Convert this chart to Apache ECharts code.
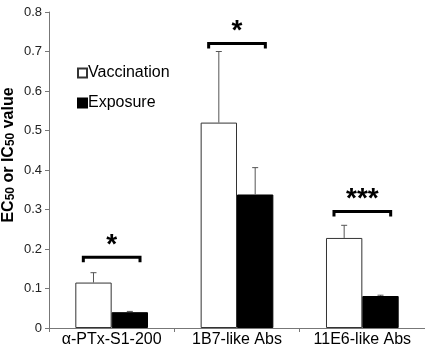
<!DOCTYPE html>
<html><head><meta charset="utf-8">
<script src="https://cdn.jsdelivr.net/npm/echarts@6/dist/echarts.min.js"></script>
<style>html,body{margin:0;padding:0;background:#fff}#c{width:425px;height:350px}</style>
</head><body><div id="c"></div>
<script>
var categories = ['\u03b1-PTx-S1-200', '1B7-like Abs', '11E6-like Abs'];
var vaccination = [0.115, 0.52, 0.228];
var vaccinationErr = [0.025, 0.18, 0.032];
var exposure = [0.04, 0.338, 0.081];
var exposureErr = [0.002, 0.068, 0.002];
var sigHeight = [0.179, 0.72, 0.295];
var sigLabel = ['*', '*', '***'];
var yTicks = [0, 0.1, 0.2, 0.3, 0.4, 0.5, 0.6, 0.7, 0.8];

var chart = echarts.init(document.getElementById('c'));
var FONT = 'Liberation Sans, Arial, sans-serif';

function errData(vals, errs) {
  return vals.map(function (v, i) { return [i, v, v + errs[i]]; });
}
function errRender(offsetSign) {
  return function (params, api) {
    var i = api.value(0);
    var base = api.coord([i, api.value(1)]);
    var top = api.coord([i, api.value(2)]);
    var bw = api.size([1, 0])[0] * 0.29;
    var x = base[0] + offsetSign * bw / 2;
    return { type: 'group', children: [
      { type: 'line', shape: { x1: x, y1: base[1], x2: x, y2: top[1] }, style: { stroke: '#555', lineWidth: 1 } },
      { type: 'line', shape: { x1: x - 3, y1: top[1], x2: x + 3, y2: top[1] }, style: { stroke: '#555', lineWidth: 1 } }
    ]};
  };
}

chart.setOption({
  animation: false,
  grid: { left: 49, right: 0, top: 12, bottom: 22, containLabel: false, outerBoundsMode: 'none' },
  legend: {
    orient: 'vertical', left: 72, top: 60, itemGap: 14, itemWidth: 9, itemHeight: 9,
    icon: 'rect', textStyle: { fontFamily: FONT, fontSize: 16, color: '#000', padding: [0, 0, 0, -4] },
    data: ['Vaccination', 'Exposure']
  },
  xAxis: {
    type: 'category', data: categories,
    axisLine: { lineStyle: { color: '#777', width: 1 } },
    axisTick: { show: true, length: 4, alignWithLabel: false, lineStyle: { color: '#777' } },
    axisLabel: { fontFamily: FONT, fontSize: 16, color: '#000', margin: 4, interval: 0, hideOverlap: false }
  },
  yAxis: {
    type: 'value', min: 0, max: 0.8, interval: 0.1,
    name: '{a|EC}{s|50}{a| or IC}{s|50}{a| value}',
    nameLocation: 'middle', nameRotate: 90, nameGap: 32, nameMoveOverlap: false,
    nameTextStyle: {
      padding: [0, 0, 0, 30],
      rich: {
        a: { fontFamily: FONT, fontSize: 16, fontWeight: 'bold', color: '#000' },
        s: { fontFamily: FONT, fontSize: 12, fontWeight: 'bold', color: '#000', padding: [5, 0, 0, 0] }
      }
    },
    splitLine: { show: false },
    axisLine: { show: true, lineStyle: { color: '#777', width: 1 } },
    axisTick: { show: true, length: 4, lineStyle: { color: '#777' } },
    axisLabel: { fontFamily: FONT, fontSize: 13, color: '#222', margin: 7,
      formatter: function (v) { return yTicks.indexOf(Math.round(v * 10) / 10) >= 0 ? String(Math.round(v * 10) / 10) : ''; } }
  },
  series: [
    { name: 'Vaccination', type: 'bar', data: vaccination, barGap: '0%', barCategoryGap: '42%',
      itemStyle: { color: '#fff', borderColor: '#333', borderWidth: 1 } },
    { name: 'Exposure', type: 'bar', data: exposure,
      itemStyle: { color: '#000', borderColor: '#000', borderWidth: 1 } },
    { type: 'custom', data: errData(vaccination, vaccinationErr), renderItem: errRender(-1), z: 5, silent: true },
    { type: 'custom', data: errData(exposure, exposureErr), renderItem: errRender(1), z: 5, silent: true },
    { type: 'custom', silent: true, z: 6,
      data: sigHeight.map(function (h, i) { return [i, h, sigLabel[i]]; }),
      renderItem: function (params, api) {
        var i = api.value(0);
        var p = api.coord([i, api.value(1)]);
        var bw = api.size([1, 0])[0] * 0.29;
        var x1 = p[0] - bw + 8, x2 = p[0] + bw - 8;
        var y = p[1];
        return { type: 'group', children: [
          { type: 'polyline', shape: { points: [[x1, y + 5], [x1, y], [x2, y], [x2, y + 5]] },
            style: { stroke: '#000', lineWidth: 3, fill: null } },
          { type: 'text', style: { text: sigLabel[params.dataIndex], x: p[0], y: y + 2,
            textAlign: 'center', textVerticalAlign: 'bottom',
            font: 'bold 28px ' + FONT, fill: '#000' } }
        ]};
      }
    }
  ]
});
</script></body></html>
